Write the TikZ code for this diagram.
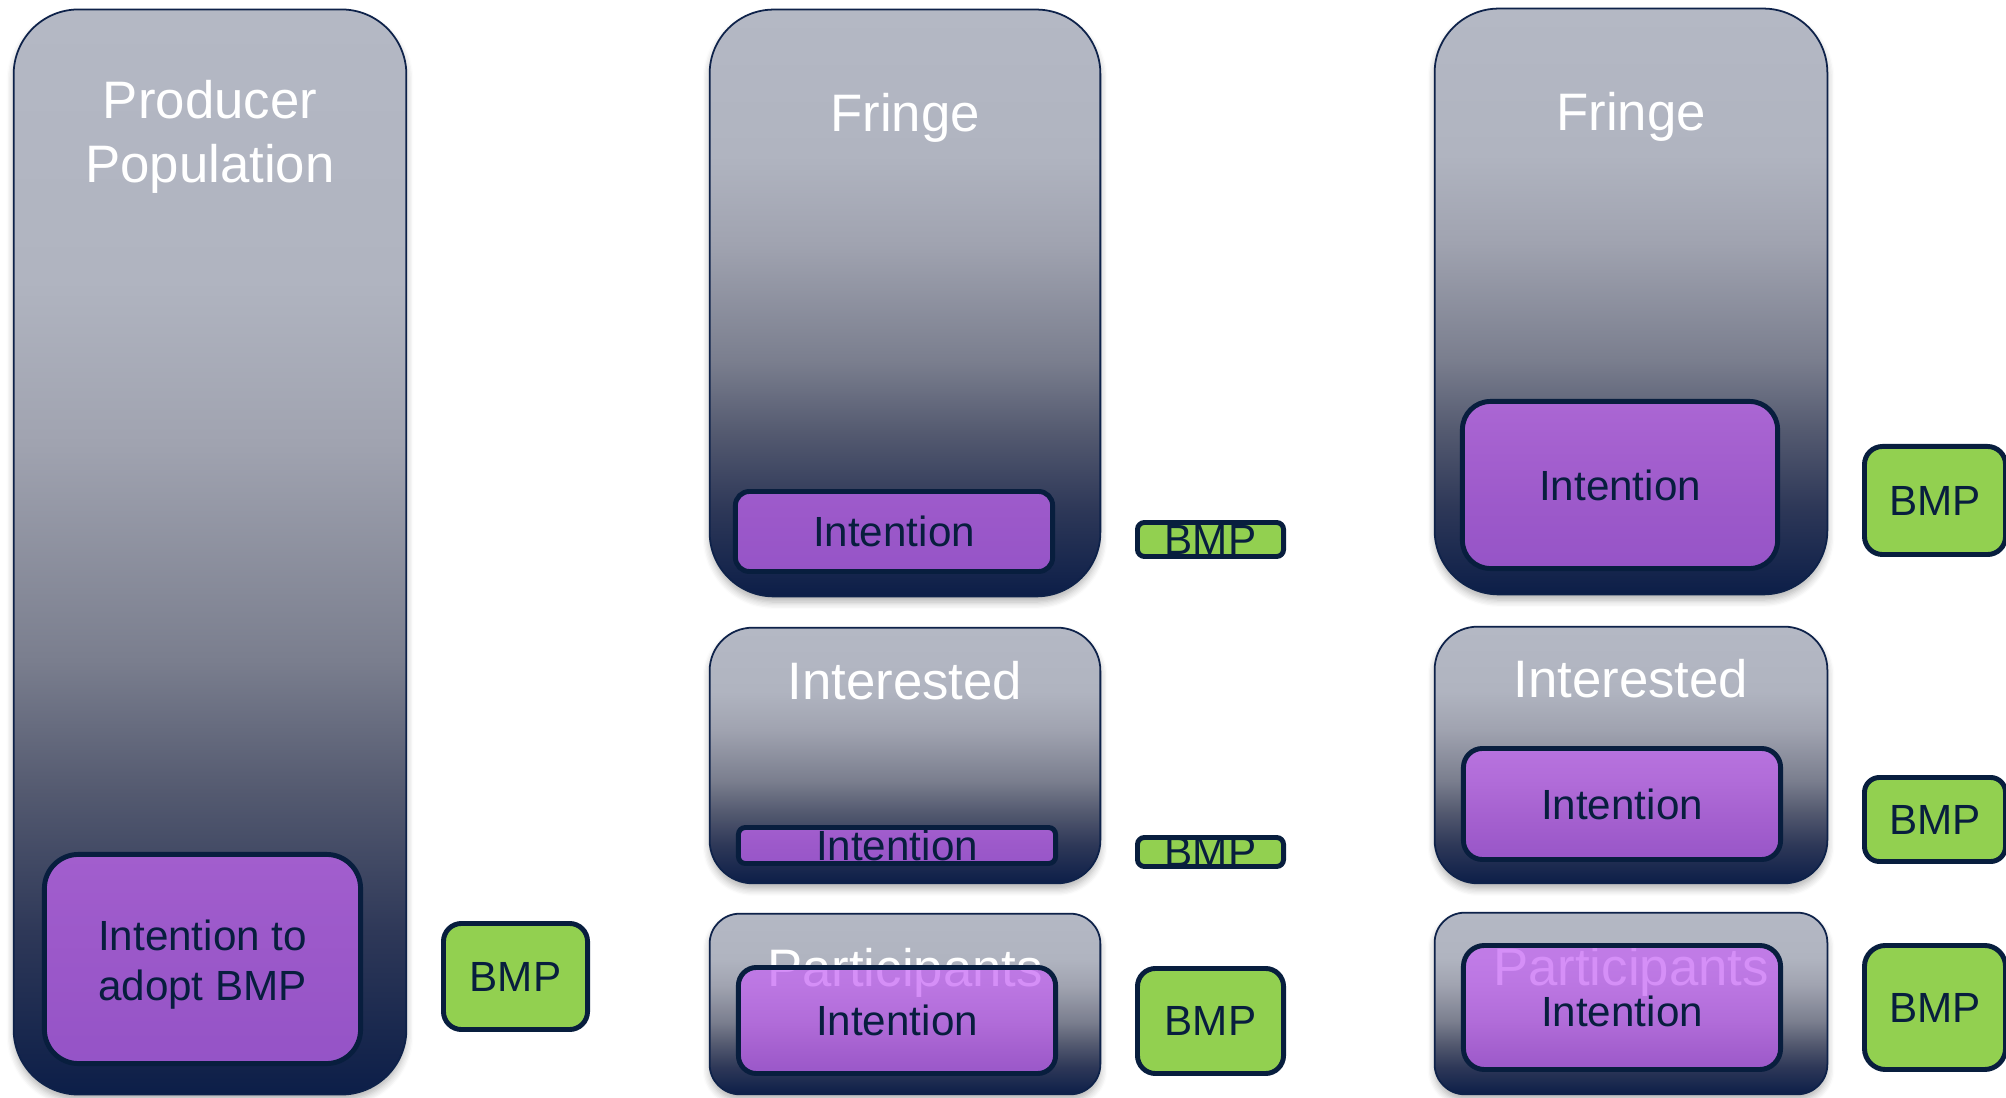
\documentclass[tikz,border=0pt]{standalone}
\usepackage{fontspec}
\setmainfont{Liberation Sans}
\usetikzlibrary{shadows.blur}

% palette
\definecolor{navy}{RGB}{8,30,62}
\definecolor{rim}{RGB}{14,34,74}
\definecolor{purp}{RGB}{198,102,245}
\definecolor{leaf}{RGB}{146,208,80}
\definecolor{gtop}{RGB}{180,184,196}
\definecolor{g25}{RGB}{176,180,192}
\definecolor{g40}{RGB}{160,163,176}
\definecolor{g60}{RGB}{122,126,142}
\definecolor{g72}{RGB}{84,90,112}
\definecolor{g85}{RGB}{46,56,88}
\definecolor{gdk}{RGB}{12,30,72}

% light grey at the top fading to dark navy at the bottom
\pgfdeclareverticalshading{greyfall}{100bp}{%
  color(0bp)=(gdk); color(25bp)=(gdk); color(32.5bp)=(g85);
  color(39bp)=(g72); color(45bp)=(g60); color(55bp)=(g40);
  color(62.5bp)=(g25); color(75bp)=(gtop); color(100bp)=(gtop)}

% lower a line of text without changing the box it occupies
\newcommand{\dropline}[2]{\raisebox{-#1}[\height][\depth]{#2}}

\tikzset{
  stagebox/.style={shading=greyfall, draw=rim, line width=0.5pt,
    inner sep=0pt, outer sep=0pt,
    blur shadow={shadow xshift=0pt, shadow yshift=-1.6pt,
      shadow opacity=30, shadow blur radius=2pt, shadow blur steps=6}},
  stagename/.style={anchor=base, text=white, inner sep=0pt,
    font=\fontsize{15pt}{18pt}\selectfont},
  intentbox/.style={fill=purp, fill opacity=0.73, text opacity=1,
    draw=navy, line width=1.4pt, text=navy, inner sep=0pt, outer sep=0pt,
    font=\fontsize{12pt}{14.2pt}\selectfont, align=center},
  bmpbox/.style={fill=leaf, draw=navy, line width=1.4pt, text=navy,
    inner sep=0pt, outer sep=0pt, font=\fontsize{12pt}{14.2pt}\selectfont},
  bare/.style={draw=none},
  rimonly/.style={draw=navy, line width=1.4pt, rounded corners=0.07cm}
}

\begin{document}
\begin{tikzpicture}[x=0.01cm, y=-0.01cm]
\useasboundingbox (0,0) rectangle (2006,1098);
\clip (0,0) rectangle (2006,1098);

% ---- whole producer population ----
\node[stagebox, minimum width=3.925cm, minimum height=10.845cm,
      rounded corners=0.65cm] (pop) at (210,552) {};
\node[stagename] (popA) at (210,119) {Producer};
\node[stagename] (popB) at (210,183) {Population};
\node[intentbox, minimum width=3.16cm, minimum height=2.09cm,
      rounded corners=0.34cm] (popI) at (202.5,959)
      {\dropline{1.5pt}{Intention to}\\\dropline{1.7pt}{adopt BMP}};
\node[bmpbox, minimum width=1.44cm, minimum height=1.06cm,
      rounded corners=0.18cm] (popM) at (515.5,976.5) {BMP};

% ---- segmented population, low intention ----
\node[stagebox, minimum width=3.905cm, minimum height=5.865cm,
      rounded corners=0.64cm] (frB) at (905,303) {};
\node[stagename] (frBt) at (905,132) {Fringe};
\node[intentbox, minimum width=3.17cm, minimum height=0.80cm,
      rounded corners=0.14cm] (frBi) at (894,531.5) {Intention};
\node[bmpbox, bare, minimum width=1.46cm, minimum height=0.34cm,
      rounded corners=0.07cm] (frBm) at (1210.5,539.5) {BMP};
\draw[rimonly] (frBm.south west) rectangle (frBm.north east);

\node[stagebox, minimum width=3.905cm, minimum height=2.555cm,
      rounded corners=0.43cm] (inB) at (905,755.5) {};
\node[stagename] (inBt) at (905,700) {Interested};
\node[intentbox, bare, minimum width=3.17cm, minimum height=0.36cm,
      rounded corners=0.07cm] (inBi) at (897,845.5) {Intention};
\draw[rimonly] (inBi.south west) rectangle (inBi.north east);
\node[bmpbox, bare, minimum width=1.46cm, minimum height=0.25cm,
      rounded corners=0.07cm] (inBm) at (1210.5,852) {BMP};
\draw[rimonly] (inBm.south west) rectangle (inBm.north east);

\node[stagebox, minimum width=3.905cm, minimum height=1.805cm,
      rounded corners=0.30cm] (paB) at (905,1004) {};
\node[stagename] (paBt) at (905,987) {Participants};
\node[intentbox, minimum width=3.17cm, minimum height=1.06cm,
      rounded corners=0.18cm] (paBi) at (897,1020.5) {Intention};
\node[bmpbox, minimum width=1.46cm, minimum height=1.05cm,
      rounded corners=0.18cm] (paBm) at (1210.5,1021) {BMP};

% ---- segmented population, high intention ----
\node[stagebox, minimum width=3.925cm, minimum height=5.855cm,
      rounded corners=0.64cm] (frC) at (1631,301.5) {};
\node[stagename] (frCt) at (1631,131) {Fringe};
\node[intentbox, minimum width=3.15cm, minimum height=1.67cm,
      rounded corners=0.28cm] (frCi) at (1620,485) {Intention};
\node[bmpbox, minimum width=1.41cm, minimum height=1.08cm,
      rounded corners=0.18cm] (frCm) at (1935,500.5) {BMP};

\node[stagebox, minimum width=3.925cm, minimum height=2.565cm,
      rounded corners=0.43cm] (inC) at (1631,755) {};
\node[stagename] (inCt) at (1631,698) {Interested};
\node[intentbox, minimum width=3.17cm, minimum height=1.11cm,
      rounded corners=0.19cm] (inCi) at (1622,804) {Intention};
\node[bmpbox, minimum width=1.41cm, minimum height=0.84cm,
      rounded corners=0.15cm] (inCm) at (1935,819.5) {BMP};

\node[stagebox, minimum width=3.925cm, minimum height=1.815cm,
      rounded corners=0.30cm] (paC) at (1631,1003.5) {};
\node[stagename] (paCt) at (1631,985) {Participants};
\node[intentbox, minimum width=3.17cm, minimum height=1.24cm,
      rounded corners=0.21cm] (paCi) at (1622,1007.5) {\dropline{1pt}{Intention}};
\node[bmpbox, minimum width=1.41cm, minimum height=1.24cm,
      rounded corners=0.21cm] (paCm) at (1935,1007.5) {BMP};
\end{tikzpicture}
\end{document}
